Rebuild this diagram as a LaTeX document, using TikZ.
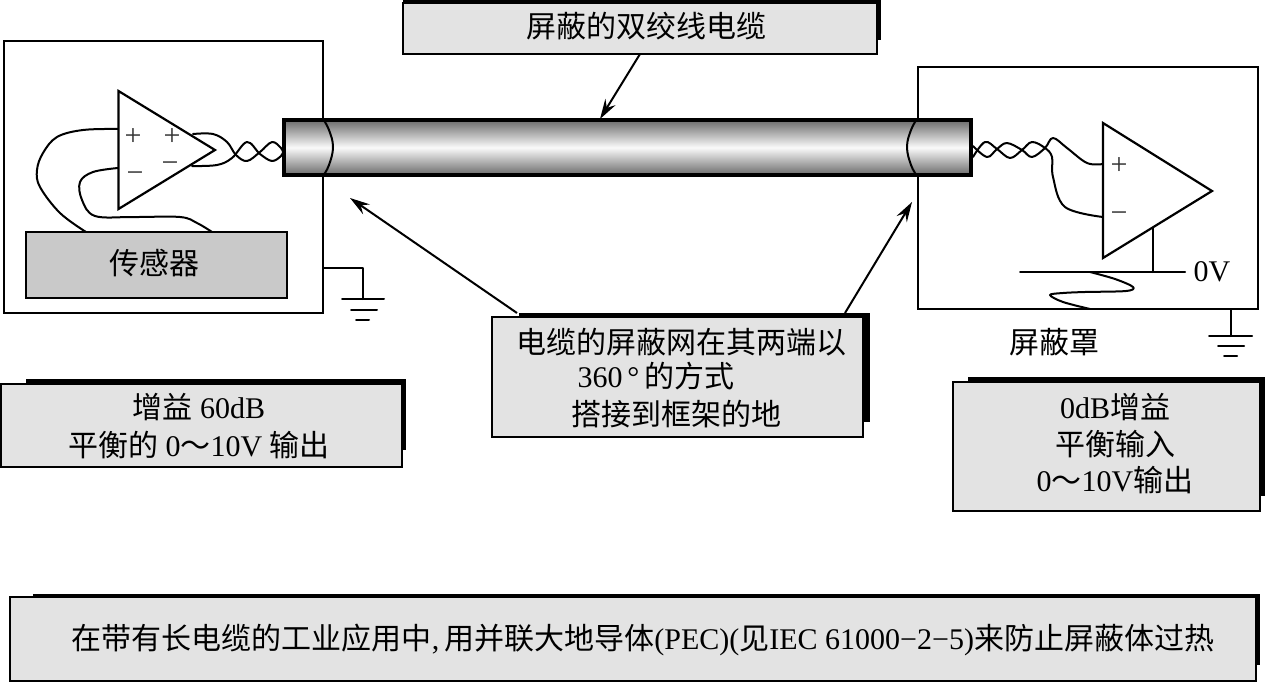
\documentclass[tikz,border=0pt]{standalone}
\usepackage{fontspec}
\setmainfont{Liberation Serif}
\newfontfamily\cjk{Noto Sans CJK SC}[Scale=1.0]
\newcommand\zh[1]{{\cjk #1}}
\usetikzlibrary{arrows.meta}
\tikzset{
  x=1pt,y=-1pt,
  wire/.style={line width=2pt,line cap=round,line join=round},
  frame/.style={draw=black,line width=2.2pt,fill=none},
  panel/.style={draw=black,line width=2.2pt,fill=black!11,inner sep=0pt,outer sep=0pt},
  shadowbar/.style={fill=black},
  sensorbox/.style={draw=black,line width=2.2pt,fill=black!21,inner sep=0pt,outer sep=0pt},
  cablebody/.style={draw=black,line width=4pt,inner sep=0pt,outer sep=0pt,
     top color=black!58,bottom color=black!58,middle color=black!2},
  caption/.style={font=\fontsize{30}{38}\selectfont,inner sep=0pt,align=center},
  pinmark/.style={font=\fontsize{30}{30}\selectfont,inner sep=0pt,text=black!80},
  pointer/.style={line width=2pt,-{Stealth[length=20pt,width=12pt,inset=7pt]}},
  amp/.style={draw=black,line width=2.2pt,fill=white,line join=miter},
}
\begin{document}
\begin{tikzpicture}
\useasboundingbox (0,0) rectangle (1265,682);
% enclosures
\draw[frame] (4,41) rectangle (323,313);
\draw[frame] (918,67) rectangle (1258,309);
% ground left
\coordinate (gl0) at (323,268); \coordinate (gl1) at (363,268); \coordinate (gl2) at (363,299);
\draw[wire] (gl0) -- (gl1) -- (gl2);
\draw[wire] (342,299) -- (384,299) (351,310) -- (377,310) (356,320) -- (369,320);
% ground right
\coordinate (gr0) at (1231,309); \coordinate (gr1) at (1231,336);
\draw[wire] (gr0) -- (gr1);
\draw[wire] (1209,336) -- (1252,336) (1218,346) -- (1244,346) (1224,356) -- (1237,356);
% sensor
\node[sensorbox,minimum width=261pt,minimum height=66pt] (sensor) at (156.5,265) {};
\node[caption] (sensortext) at (154,263) {\zh{传感器}};
% left wires
\draw[wire] plot[smooth,tension=0.6] coordinates {(118,129) (83,130) (57,137) (43,153) (37,170) (40,187) (60,213) (86,232)};
\draw[wire] plot[smooth,tension=0.6] coordinates {(118,168) (93,172) (80,182) (82,200) (95,216) (133,217) (180,217) (197,223) (212,232)};
\draw[wire] plot[smooth,tension=0.6] coordinates {(193,134) (213,134) (227,142) (236,155) (247,161) (260,152) (272,142) (281,148) (283,152)};
\draw[wire] plot[smooth,tension=0.6] coordinates {(192,166) (217,165) (232,158) (247,142) (260,154) (272,161) (281,156) (283,152)};
% left amp
\coordinate (la1) at (118.5,91); \coordinate (la2) at (215,150); \coordinate (la3) at (118.5,209);
\draw[amp] (la1) -- (la2) -- (la3) -- cycle;
\node[pinmark] (lp1) at (133,137) {+};
\node[pinmark] (lm1) at (135,177) {−};
\node[pinmark] (lp2) at (172,137) {+};
\node[pinmark] (lm2) at (170,167) {−};
% right wires
\draw[wire] plot[smooth,tension=0.6] coordinates {(973,157) (985,142) (997,149) (1010,158) (1022,150) (1032,142) (1045,148) (1052,157) (1053,177) (1065,207) (1103,217)};
\draw[wire] plot[smooth,tension=0.6] coordinates {(973,146) (987,157) (997,149) (1007,143) (1022,150) (1032,157) (1045,148) (1053,138) (1067,148) (1087,163) (1103,164)};
% right amp
\coordinate (ra1) at (1103,123); \coordinate (ra2) at (1212,191); \coordinate (ra3) at (1103,258);
\coordinate (stem) at (1153,228); \coordinate (rail) at (1153,272);
\draw[amp] (ra1) -- (ra2) -- (ra3) -- cycle;
\node[pinmark] (rp) at (1119,166) {+};
\node[pinmark] (rm) at (1119,217) {−};
% 0V rail
\draw[wire] (stem) -- (rail);
\coordinate (r0) at (1020,272); \coordinate (r1) at (1185,272);
\draw[wire] (r0) -- (r1);
\draw[wire] plot[smooth,tension=0.55] coordinates {(1090,272) (1115,279) (1133,287) (1126,291) (1085,292) (1063,293) (1050,295) (1063,302) (1090,309)};
\node[caption] (zerov) at (1212,272) {0V};
\node[caption] (shield) at (1054,342) {\zh{屏蔽罩}};
% cable
\node[cablebody,minimum width=687pt,minimum height=55pt] (cable) at (627.5,147.5) {};
\draw[wire] plot[smooth,tension=0.7] coordinates {(323,119) (329,130) (333,147) (329,165) (323,176)};
\draw[wire] plot[smooth,tension=0.7] coordinates {(917,119) (911,130) (907,147) (911,165) (917,176)};
% panels
\fill[shadowbar] (403,0) rectangle (881,40);
\node[panel,minimum width=474pt,minimum height=51pt] (toppanel) at (640,28.5) {};
\node[caption] (toptext) at (646,26) {\zh{屏蔽的双绞线电缆}};

\fill[shadowbar] (26,379) rectangle (406,450);
\node[panel,minimum width=401pt,minimum height=83pt] (gainpanel) at (201.5,425.5) {};
\node[caption] (gaintext) at (199,426) {\zh{增益} 60dB\\\zh{平衡的} 0\zh{～}10V \zh{输出}};

\fill[shadowbar] (519,313) rectangle (870,422);
\node[panel,minimum width=371pt,minimum height=120pt] (midpanel) at (677.5,377) {};
\node[caption] (midtext1) at (681,342) {\zh{电缆的屏蔽网在其两端以}};
\node[caption] (midtext2) at (656,376) {360\,°\,\zh{的方式}};
\node[caption] (midtext3) at (676,414) {\zh{搭接到框架的地}};

\fill[shadowbar] (968,377) rectangle (1265,496);
\node[panel,minimum width=307pt,minimum height=129pt] (rightpanel) at (1106.5,446.5) {};
\node[caption] (righttext) at (1115,444) {0dB\zh{增益}\\[-1.5pt]\zh{平衡输入}\\[-1.5pt]0\zh{～}10V\zh{输出}};

\fill[shadowbar] (33,594) rectangle (1260,665);
\node[panel,minimum width=1246pt,minimum height=84pt] (bottompanel) at (633,639) {};
\node[caption] (bottomtext) at (643,640) {\zh{在带有长电缆的工业应用中},\,\zh{用并联大地导体}(PEC)(\zh{见}IEC 61000−2−5)\zh{来防止屏蔽体过热}};
% pointers
\coordinate (pt0) at (640,54); \coordinate (pt1) at (600,119);
\draw[pointer] (pt0) -- (pt1);
\coordinate (pl0) at (517,313); \coordinate (pl1) at (350,198);
\draw[pointer] (pl0) -- (pl1);
\coordinate (pr0) at (845,313); \coordinate (pr1) at (912,202);
\draw[pointer] (pr0) -- (pr1);
\end{tikzpicture}
\end{document}
